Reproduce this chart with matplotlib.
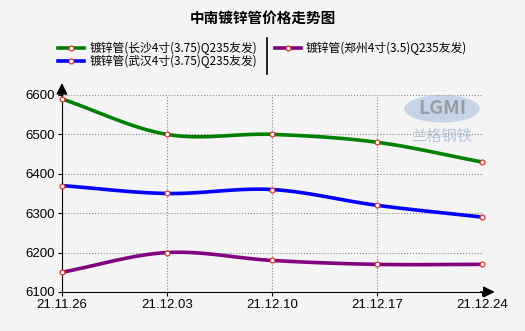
import matplotlib
matplotlib.use("Agg")
import matplotlib.pyplot as plt
from matplotlib.lines import Line2D
from matplotlib.patches import Ellipse
import numpy as np

plt.rcParams['font.family'] = ['Noto Sans CJK SC', 'DejaVu Sans']

# data
dates = ['21.11.26', '21.12.03', '21.12.10', '21.12.17', '21.12.24']
changsha = [6590, 6500, 6500, 6480, 6430]
wuhan = [6370, 6350, 6360, 6320, 6290]
zhengzhou = [6150, 6200, 6180, 6170, 6170]
names = ['镀锌管(长沙4寸(3.75)Q235友发)', '镀锌管(武汉4寸(3.75)Q235友发)',
         '镀锌管(郑州4寸(3.5)Q235友发)']
colors = ['#008000', '#0000ff', '#800080']
yticks = [6100, 6200, 6300, 6400, 6500, 6600]


def smooth(y, n=30):
    # Catmull-Rom style curve through the points
    y = np.asarray(y, dtype=float)
    m = np.gradient(y)
    xs, ys = [], []
    for i in range(len(y) - 1):
        t = np.linspace(0, 1, n)
        h00 = 2 * t**3 - 3 * t**2 + 1
        h10 = t**3 - 2 * t**2 + t
        h01 = -2 * t**3 + 3 * t**2
        h11 = t**3 - t**2
        xs.append(i + t)
        ys.append(h00 * y[i] + h10 * m[i] + h01 * y[i + 1] + h11 * m[i + 1])
    return np.concatenate(xs), np.concatenate(ys)


bg = '#f4f4f4'
fig = plt.figure(figsize=(5.25, 3.31), dpi=100, facecolor=bg)
ax = fig.add_axes([0.118, 0.118, 0.8, 0.595], facecolor=bg)

x = np.arange(len(dates))
handles = []
for vals, c in zip([changsha, wuhan, zhengzhou], colors):
    sx, sy = smooth(vals)
    ax.plot(sx, sy, color=c, lw=2.6, solid_capstyle='round', zorder=3)
    ax.plot(x, vals, ls='none', marker='o', ms=3.5, mfc='white', mec='#e03030',
            mew=0.9, zorder=4, clip_on=False)
    handles.append(Line2D([0], [0], color=c, lw=2.6, marker='o', ms=3.5,
                          mfc='white', mec='#e03030', mew=0.9))

ax.set_xlim(0, len(dates) - 1)
ax.set_ylim(6100, 6600)
ax.set_xticks(x)
ax.set_xticklabels(dates)
ax.set_yticks(yticks)
ax.grid(True, ls=':', color='#888888', lw=0.8)
for s in ['top', 'right']:
    ax.spines[s].set_visible(False)
ax.spines['left'].set_color('black')
ax.spines['bottom'].set_color('black')
ax.tick_params(labelsize=9.5, length=3, pad=2)
for lab in ax.get_xticklabels() + ax.get_yticklabels():
    lab.set_family('Liberation Sans')

# axis arrows
ax.annotate('', xy=(0, 1.075), xytext=(0, 0.98), xycoords='axes fraction',
            arrowprops=dict(arrowstyle='-|>', color='black', lw=1, mutation_scale=17))
ax.annotate('', xy=(1.037, 0), xytext=(0.99, 0), xycoords='axes fraction',
            arrowprops=dict(arrowstyle='-|>', color='black', lw=1, mutation_scale=17))

# watermark
ax.add_patch(Ellipse((0.905, 0.93), 0.18, 0.14, transform=ax.transAxes,
                     facecolor='#a8c0e0', edgecolor='none', alpha=0.6, zorder=1))
ax.text(0.905, 0.93, 'LGMI', transform=ax.transAxes, ha='center', va='center',
        fontsize=14, fontweight='bold', color='#909090', alpha=0.8, zorder=1)
ax.text(0.905, 0.79, '兰格钢铁', transform=ax.transAxes, ha='center', va='center',
        fontsize=11, color='#9ab0d0', alpha=0.7, zorder=1)

fig.text(0.5, 0.945, '中南镀锌管价格走势图', ha='center', va='center',
         fontsize=10.5, fontweight='bold')

fig.legend(handles, names, ncol=2, loc='center', bbox_to_anchor=(0.5, 0.834),
           frameon=False, fontsize=8.5, handlelength=2.2, handletextpad=0.4,
           columnspacing=1.5, labelspacing=0.0, borderpad=0)
fig.add_artist(Line2D([0.509, 0.509], [0.775, 0.885], color='black', lw=1.2,
                      transform=fig.transFigure))

fig.savefig('out.png', dpi=100, facecolor=bg)
